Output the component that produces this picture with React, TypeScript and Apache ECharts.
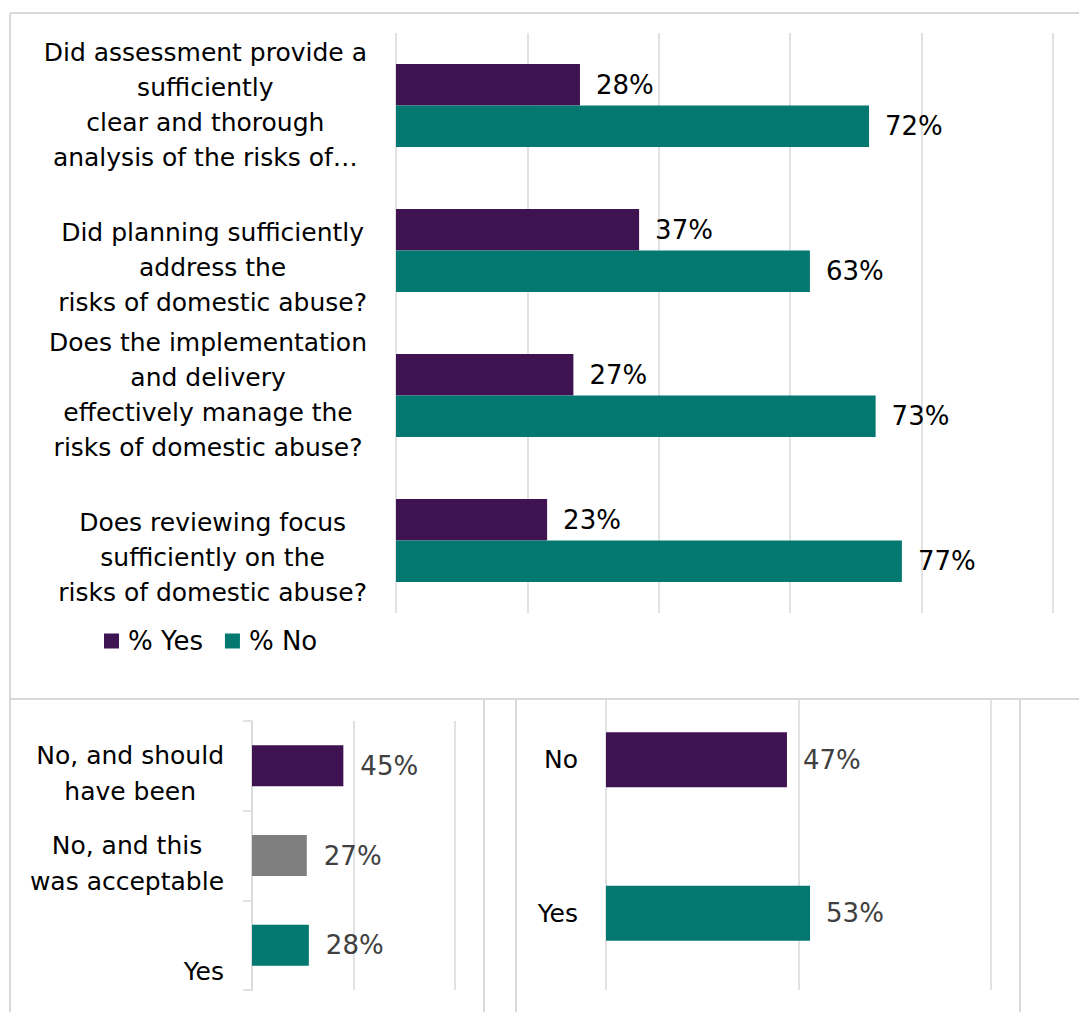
import React, { useEffect, useRef } from "react";
import * as echarts from "echarts";

const FONT = "DejaVu Sans";
const PURPLE = "#3F1251";
const TEAL = "#037870";
const GREY = "#7F7F7F";
const LINE = "#d9d9d9";

// Top chart
const topCategories = [
  "Did assessment provide a\nsufficiently\nclear and thorough\nanalysis of the risks of…",
  "Did planning sufficiently\naddress the\nrisks of domestic abuse?",
  "Does the implementation\nand delivery\neffectively manage the\nrisks of domestic abuse?",
  "Does reviewing focus\nsufficiently on the\nrisks of domestic abuse?",
];
const topYes = [28, 37, 27, 23];
const topNo = [72, 63, 73, 77];
const topSeriesNames = ["% Yes", "% No"];

// Bottom-left chart
const leftCategories = ["No, and should\nhave been", "No, and this\nwas acceptable", "Yes"];
const leftValues = [45, 27, 28];
const leftColors = [PURPLE, GREY, TEAL];

// Bottom-right chart
const rightCategories = ["No", "Yes"];
const rightValues = [47, 53];
const rightColors = [PURPLE, TEAL];

const richLabel = (v: string) =>
  v
    .split("\n")
    .map((l) => `{c|${l}}`)
    .join("\n");

export default function App() {
  const ref = useRef<HTMLDivElement>(null);
  useEffect(() => {
    if (!ref.current) return;
    const chart = echarts.init(ref.current, undefined, { renderer: "svg" });
    const rich = {
      c: { align: "center", fontFamily: FONT, fontSize: 25, lineHeight: 35, color: "#000" },
    };
    const splitLine = { show: true, lineStyle: { color: LINE, width: 1.5 } };
    const pct = (p: any) => p.value + "%";
    const line = (x1: number, y1: number, x2: number, y2: number) => ({
      type: "line",
      z: 101,
      shape: { x1, y1, x2, y2 },
      style: { stroke: LINE, lineWidth: 2 },
    });
    chart.setOption({
      animation: false,
      backgroundColor: "#fff",
      textStyle: { fontFamily: FONT },
      legend: {
        data: topSeriesNames,
        left: 99,
        top: 623,
        icon: "rect",
        itemWidth: 15,
        itemHeight: 15,
        itemGap: 22,
        textStyle: { fontFamily: FONT, fontSize: 26, color: "#000", padding: [0, 0, 0, 4] },
      },
      grid: [
        { left: 396, top: 33, width: 657, height: 580 },
        { left: 252, top: 721, width: 203, height: 269 },
        { left: 606, top: 683, width: 385, height: 307 },
      ],
      xAxis: [
        {
          gridIndex: 0, type: "value", min: 0, max: 100, interval: 20,
          axisLabel: { show: false }, axisLine: { show: false }, axisTick: { show: false }, splitLine,
        },
        {
          gridIndex: 1, type: "value", min: 0, max: 100, interval: 50,
          axisLabel: { show: false }, axisLine: { show: false }, axisTick: { show: false }, splitLine,
        },
        {
          gridIndex: 2, type: "value", min: 0, max: 100, interval: 50,
          axisLabel: { show: false }, axisLine: { show: false }, axisTick: { show: false }, splitLine,
        },
      ],
      yAxis: [
        {
          gridIndex: 0, type: "category", inverse: true, data: topCategories,
          axisLine: { show: false }, axisTick: { show: false },
          axisLabel: {
            interval: 0, margin: 29, align: "right", verticalAlign: "bottom",
            padding: [0, 0, -69, 0], formatter: richLabel, rich,
          },
        },
        {
          gridIndex: 1, type: "category", inverse: true, data: leftCategories,
          axisLine: { show: true, lineStyle: { color: LINE, width: 1.5 } },
          axisTick: { show: true, length: 9, lineStyle: { color: LINE, width: 1.5 } },
          axisLabel: {
            interval: 0, margin: 28, align: "right", verticalAlign: "bottom",
            padding: [0, 0, -44, 0], formatter: richLabel,
            rich: { c: { ...rich.c, lineHeight: 36 } },
          },
        },
        {
          gridIndex: 2, type: "category", inverse: true, data: rightCategories,
          axisLine: { show: false }, axisTick: { show: false },
          axisLabel: { interval: 0, margin: 28, fontFamily: FONT, fontSize: 25, color: "#000" },
        },
      ],
      series: [
        {
          name: topSeriesNames[0], type: "bar", xAxisIndex: 0, yAxisIndex: 0, data: topYes,
          barWidth: 41.5, barGap: "0%", itemStyle: { color: PURPLE },
          label: { show: true, position: "right", distance: 16, formatter: pct, fontFamily: FONT, fontSize: 26, color: "#000" },
        },
        {
          name: topSeriesNames[1], type: "bar", xAxisIndex: 0, yAxisIndex: 0, data: topNo,
          barWidth: 41.5, barGap: "0%", itemStyle: { color: TEAL },
          label: { show: true, position: "right", distance: 16, formatter: pct, fontFamily: FONT, fontSize: 26, color: "#000" },
        },
        {
          name: "Left", type: "bar", xAxisIndex: 1, yAxisIndex: 1,
          data: leftValues.map((v, i) => ({ value: v, itemStyle: { color: leftColors[i] } })),
          barWidth: 41,
          label: { show: true, position: "right", distance: 17, formatter: pct, fontFamily: FONT, fontSize: 26, color: "#404040" },
        },
        {
          name: "Right", type: "bar", xAxisIndex: 2, yAxisIndex: 2,
          data: rightValues.map((v, i) => ({ value: v, itemStyle: { color: rightColors[i] } })),
          barWidth: 55,
          label: { show: true, position: "right", distance: 16, formatter: pct, fontFamily: FONT, fontSize: 26, color: "#404040" },
        },
      ],
      graphic: [
        { type: "rect", z: 100, shape: { x: 490, y: 614, width: 589, height: 84 }, style: { fill: "#fff" } },
        line(10, 13, 1079, 13),
        line(10, 13, 10, 1012),
        line(10, 699, 1079, 699),
        line(484, 699, 484, 1012),
        line(516, 699, 516, 1012),
        line(1020, 699, 1020, 1012),
      ],
    });
    return () => chart.dispose();
  }, []);
  return (
    <div
      ref={ref}
      style={{ position: "fixed", left: 0, top: 0, width: 1079, height: 1012, background: "#fff" }}
    />
  );
}
